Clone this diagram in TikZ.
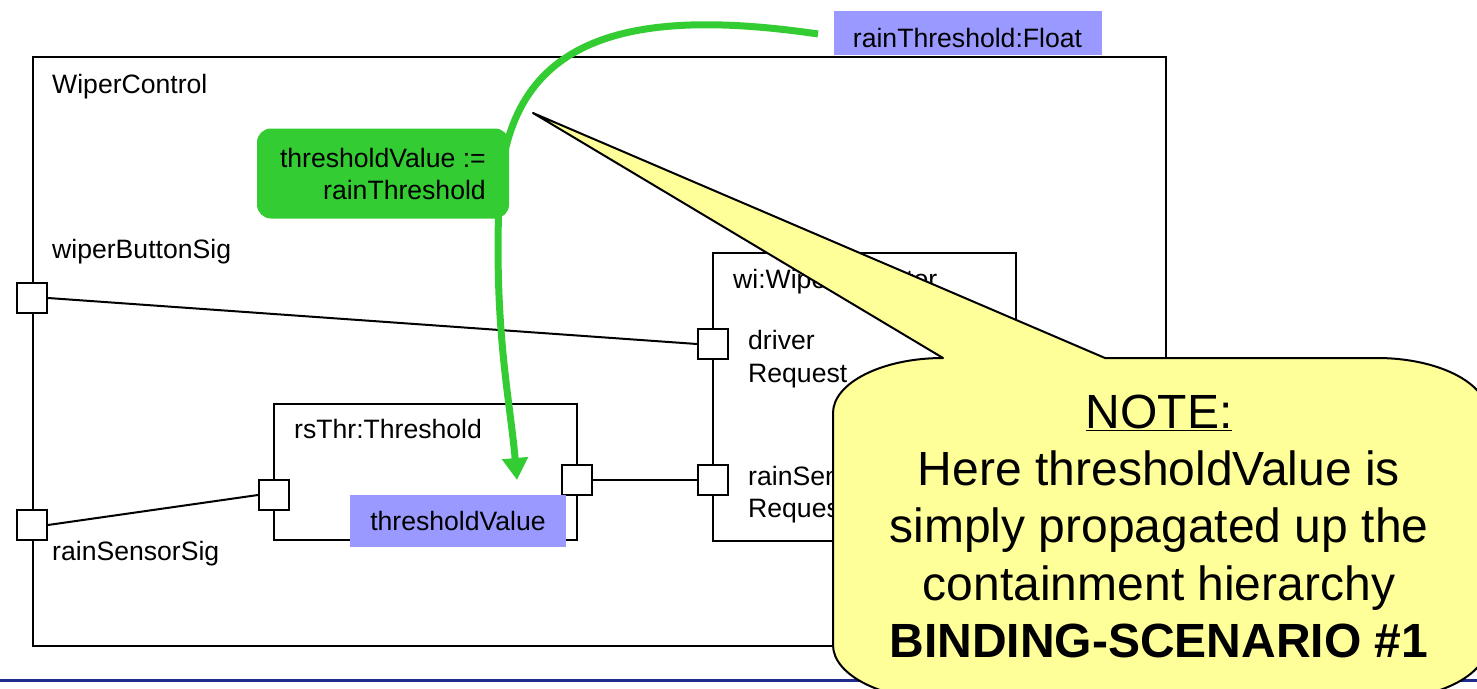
\documentclass[tikz,border=0pt]{standalone}
\usepackage{fontspec}
\setmainfont{Liberation Sans}
\usetikzlibrary{arrows.meta}
\definecolor{portblue}{HTML}{9999FF}
\definecolor{bindgreen}{HTML}{33CC33}
\definecolor{noteyellow}{HTML}{FFFF99}
\definecolor{rulenavy}{HTML}{1F2C8C}
\tikzset{
  lbl/.style={inner sep=0pt, font=\fontsize{26.6}{32}\selectfont},
  partbox/.style={draw=black, line width=2pt, fill=white, inner sep=0pt},
  portbox/.style={draw=black, line width=2pt, fill=white, inner sep=0pt,
    minimum width=30pt, minimum height=30pt},
  wire/.style={draw=black, line width=2pt},
  valbox/.style={fill=portblue, inner xsep=0pt, inner ysep=0pt,
    font=\fontsize{26.6}{32}\selectfont},
  exprbox/.style={fill=bindgreen, rounded corners=14pt, inner sep=0pt},
  bindarrow/.style={draw=bindgreen, line width=7pt,
    -{Triangle[length=22pt,width=25pt]}},
  notebody/.style={draw=black, line width=2pt, fill=noteyellow, line join=round},
  notetext/.style={inner sep=0pt, anchor=base, font=\fontsize{48}{57}\selectfont},
}
\begin{document}
\begin{tikzpicture}[x=1pt, y=-1pt]
\useasboundingbox (0,0) rectangle (1477,688);

% composite structure and its parts
\node[partbox, minimum width=1133pt, minimum height=589pt] (wc) at (599.5,351.5) {};
\node[lbl, anchor=base west] (wcl) at (52,93) {WiperControl};

\node[partbox, minimum width=303pt, minimum height=136pt] (thr) at (425.5,472) {};
\node[lbl, anchor=base west] (thrl) at (294,438) {rsThr:Threshold};

\node[partbox, minimum width=303pt, minimum height=288pt] (wi) at (864.5,397) {};
\node[lbl, anchor=base west] (wil) at (733,288) {wi:WiperIndicator};
\node[lbl, anchor=base west] (drl1) at (748,349) {driver};
\node[lbl, anchor=base west] (drl2) at (748,382) {Request};
\node[lbl, anchor=base west] (rsl1) at (748,485) {rainSensor};
\node[lbl, anchor=base west] (rsl2) at (748,517) {Request};

% ports
\node[portbox] (wb)  at (32,298)  {};
\node[portbox] (rs)  at (32,525)  {};
\node[portbox] (tin) at (274,495) {};
\node[portbox] (tout) at (577,480) {};
\node[portbox] (drv) at (713,344) {};
\node[portbox] (rsr) at (713,480) {};
\node[lbl, anchor=base west] (wbl) at (52,258) {wiperButtonSig};
\node[lbl, anchor=base west] (rsl) at (52,560) {rainSensorSig};

% connectors
\draw[wire] (wb.east) -- (drv.west);
\draw[wire] (rs.east) -- (tin.west);
\draw[wire] (tout.east) -- (rsr.west);

% property values
\node[valbox, anchor=north, minimum width=216pt, text height=35pt, text depth=17pt]
  (tv) at (458,495) {thresholdValue};
\node[valbox, anchor=north, minimum width=268pt, text height=36pt, text depth=8pt]
  (rtf) at (967.5,11) {rainThreshold:Float};

% binding expression
\node[exprbox, minimum width=252pt, minimum height=90pt] (gb) at (383,173.5) {};
\node[lbl, anchor=base east] (gt1) at (486,167) {thresholdValue :=};
\node[lbl, anchor=base east] (gt2) at (486,199) {rainThreshold};

\coordinate (gs) at (818,34);
\coordinate (ge) at (517,480);
\draw[bindarrow] (gs) .. controls (620,5) and (505,40) .. (499,200)
  .. controls (494,330) and (510,400) .. (ge);

% footer rule
\coordinate (fl) at (0,680);
\coordinate (fr) at (1477,680);
\draw[rulenavy, line width=3pt] (fl) -- (fr);

% note callout
\coordinate (tip) at (533,113);
\draw[notebody] (tip) -- (1105,358) -- (1377,358)
  .. controls (1438,358) and (1487,383) .. (1487,413) -- (1487,645)
  .. controls (1487,675) and (1438,700) .. (1377,700) -- (943,700)
  .. controls (882,700) and (833,675) .. (833,645) -- (833,413)
  .. controls (833,383) and (882,358) .. (943,358) -- cycle;
\node[notetext] (n1) at (1159,428) {\underline{NOTE:}};
\node[notetext] (n2) at (1159,485) {Here thresholdValue is};
\node[notetext] (n3) at (1159,542) {simply propagated up the};
\node[notetext] (n4) at (1159,600) {containment hierarchy};
\node[notetext] (n5) at (1159,657) {\bfseries BINDING-SCENARIO \#1};
\end{tikzpicture}
\end{document}
